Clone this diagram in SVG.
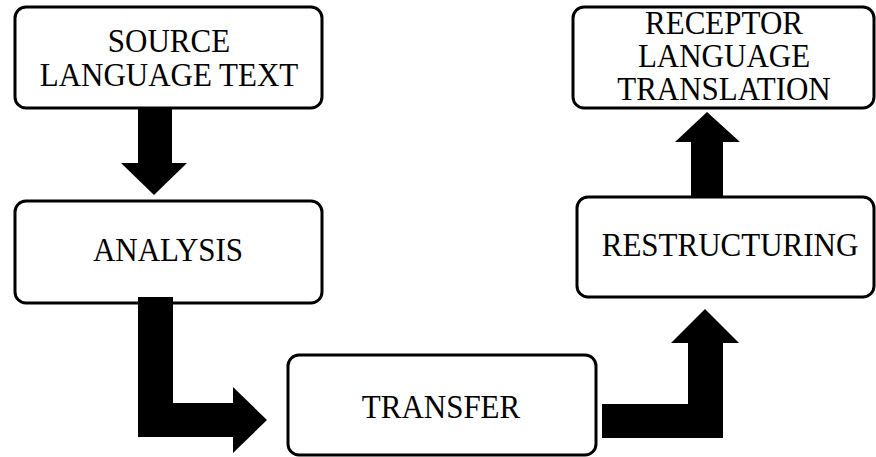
<svg xmlns="http://www.w3.org/2000/svg" width="876" height="457" viewBox="0 0 876 457">
<style>
.box{fill:#fff;stroke:#000;stroke-width:3}
.t{font-family:"Liberation Serif","Times New Roman",serif;font-size:31px;fill:#000;text-anchor:middle}
.arr{fill:#000}
</style>
<rect width="876" height="457" fill="#fff"/>
<g id="source"><rect class="box" x="15" y="7" width="307" height="101" rx="11"/><text class="t" transform="translate(169,52) scale(1,1.06)">SOURCE</text><text class="t" transform="translate(169,86) scale(1,1.06)">LANGUAGE TEXT</text></g>
<g id="analysis"><rect class="box" x="15" y="201" width="307" height="102" rx="11"/><text class="t" transform="translate(168,261) scale(1,1.06)">ANALYSIS</text></g>
<g id="transfer"><rect class="box" x="288" y="355" width="308" height="100" rx="11"/><text class="t" transform="translate(441,418) scale(1,1.06)">TRANSFER</text></g>
<g id="restructuring"><rect class="box" x="577" y="197" width="297" height="100" rx="11"/><text class="t" transform="translate(730,256) scale(1,1.06)">RESTRUCTURING</text></g>
<g id="receptor"><rect class="box" x="573" y="7" width="301" height="101" rx="11"/><text class="t" transform="translate(724,34) scale(1,1.06)">RECEPTOR</text><text class="t" transform="translate(724,67) scale(1,1.06)">LANGUAGE</text><text class="t" transform="translate(724,100) scale(1,1.06)">TRANSLATION</text></g>
<g id="connectors">
<polygon class="arr" points="138,108 172,108 172,163 187,163 154,195 121,163 138,163"/>
<polygon class="arr" points="138,297 173,297 173,403 233,403 233,387 267,420 233,453 233,437 138,437"/>
<polygon class="arr" points="602,404 688,404 688,343 671,343 705,309 739,343 723,343 723,438 602,438"/>
<polygon class="arr" points="691,197 723,197 723,142 740,142 707,112 675,142 691,142"/>
</g>
</svg>
